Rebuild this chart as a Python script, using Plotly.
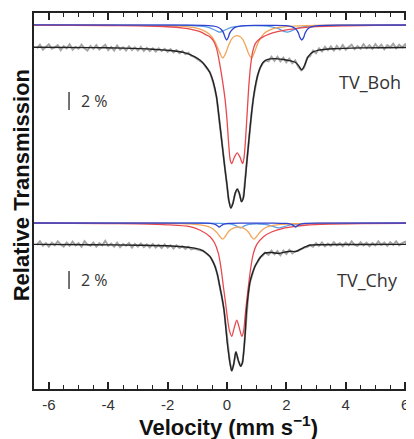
import plotly.graph_objects as go

# ---------------- data (absorption depth in %) ----------------
# TV_Boh components
BOH_RED_V = [-6.5, -4.0, -3.0, -2.0, -1.47, -1.2, -0.91, -0.7, -0.57, -0.46, -0.35, -0.24, -0.15, -0.07,
             0.0, 0.06, 0.11, 0.16, 0.25, 0.345, 0.44, 0.53, 0.58, 0.63, 0.68, 0.74, 0.8, 0.87, 0.95, 1.05,
             1.2, 1.4, 1.7, 2.0, 2.5, 3.0, 4.0, 5.0, 6.3]
BOH_RED_D = [0.02, 0.06, 0.1, 0.2, 0.35, 0.5, 0.75, 1.1, 1.35, 1.75, 2.6, 4.4, 6.2, 8.1,
             10.5, 13.3, 15.0, 15.4, 14.7, 14.2, 14.7, 15.4, 14.6, 12.5, 9.8, 6.6, 4.4, 2.9, 2.1, 1.7,
             1.35, 1.05, 0.75, 0.55, 0.32, 0.18, 0.09, 0.05, 0.03]

BOH_ORA_V = [-6.5, -3.0, -2.0, -1.5, -1.1, -0.8, -0.6, -0.46, -0.35, -0.24, -0.145, -0.05, 0.05, 0.15, 0.25,
             0.34, 0.43, 0.53, 0.63, 0.73, 0.83, 0.93, 1.03, 1.11, 1.25, 1.45, 1.7, 2.1, 3.0, 4.0, 6.3]
BOH_ORA_D = [0.01, 0.04, 0.08, 0.15, 0.3, 0.6, 1.0, 1.55, 2.25, 3.1, 3.67, 3.2, 2.3, 1.6, 1.28,
             1.19, 1.28, 1.6, 2.3, 3.2, 3.67, 3.0, 2.1, 1.6, 0.95, 0.55, 0.3, 0.15, 0.05, 0.03, 0.01]

BOH_DBL_V = [-6.5, -1.5, -0.8, -0.5, -0.3, -0.2, -0.12, -0.06, -0.01, 0.04, 0.1, 0.19, 0.29, 0.5, 1.0,
             1.5, 2.0, 2.2, 2.32, 2.4, 2.46, 2.52, 2.58, 2.64, 2.72, 2.84, 3.1, 4.0, 6.3]
BOH_DBL_D = [0.0, 0.02, 0.04, 0.1, 0.25, 0.48, 0.85, 1.4, 1.67, 1.4, 0.85, 0.48, 0.25, 0.1, 0.04,
             0.04, 0.08, 0.22, 0.45, 0.85, 1.4, 1.67, 1.4, 0.85, 0.45, 0.22, 0.08, 0.02, 0.0]

BOH_LBL_V = [-6.5, -2.0, -1.2, -0.8, -0.6, -0.45, -0.34, -0.24, -0.14, -0.03, 0.12, 0.35, 0.7, 1.2, 1.5,
             1.7, 1.82, 1.92, 2.03, 2.13, 2.24, 2.38, 2.6, 3.0, 4.0, 6.3]
BOH_LBL_D = [0.01, 0.03, 0.06, 0.15, 0.3, 0.5, 0.68, 0.8, 0.68, 0.5, 0.3, 0.15, 0.08, 0.1, 0.2,
             0.35, 0.55, 0.72, 0.8, 0.72, 0.55, 0.35, 0.18, 0.08, 0.03, 0.01]

BOH_FIT_V = [-6.5, -4.5, -3.5, -2.5, -1.92, -1.47, -1.2, -0.91, -0.7, -0.57, -0.46, -0.35, -0.24, -0.15,
             -0.07, 0.0, 0.06, 0.13, 0.2, 0.28, 0.35, 0.42, 0.49, 0.55, 0.61, 0.66, 0.72, 0.77, 0.83, 0.89,
             0.95, 1.03, 1.11, 1.22, 1.35, 1.6, 1.9, 2.15, 2.3, 2.42, 2.52, 2.62, 2.74, 2.9, 3.1, 3.6, 4.5, 6.3]
BOH_FIT_D = [0.04, 0.08, 0.13, 0.25, 0.4, 0.6, 0.9, 1.45, 2.2, 2.9, 3.9, 5.6, 8.6, 11.2,
             13.5, 15.3, 17.0, 17.9, 17.4, 16.2, 15.8, 16.3, 17.2, 16.8, 15.0, 13.1, 11.0, 9.2, 7.3, 5.7,
             4.4, 3.2, 2.4, 1.7, 1.4, 1.3, 1.4, 1.55, 1.7, 2.1, 2.55, 2.0, 1.05, 0.55, 0.35, 0.2, 0.1, 0.05]

BOH_DATA_V = [-6.4, -6.3, -6.2, -6.1, -6.0, -5.9, -5.8, -5.7, -5.6, -5.5, -5.4, -5.3, -5.2, -5.1, -5.0,
              -4.9, -4.8, -4.7, -4.6, -4.5, -4.4, -4.3, -4.2, -4.1, -4.0, -3.9, -3.8, -3.7, -3.6, -3.5,
              -3.4, -3.3, -3.2, -3.1, -3.0, -2.9, -2.8, -2.7, -2.6, -2.5, -2.4, -2.3, -2.2, -2.1, -2.0,
              -1.9, -1.8, -1.7, -1.6, -1.5, -1.4, -1.3, -1.2, -1.1,
              -0.91, -0.8, -0.7, -0.57, -0.46, -0.35, -0.24, -0.15, -0.07, 0.0, 0.06, 0.13, 0.2, 0.28,
              0.35, 0.42, 0.49, 0.55, 0.61, 0.66, 0.72, 0.77, 0.83, 0.89, 0.95, 1.03, 1.11, 1.22, 1.3,
              1.4, 1.5, 1.6, 1.7, 1.8, 1.9, 2.0, 2.1, 2.2, 2.3, 2.4, 2.5, 2.6, 2.7, 2.8, 2.9, 3.0,
              3.1, 3.2, 3.3, 3.4, 3.5, 3.6, 3.7, 3.8, 3.9, 4.0, 4.1, 4.2, 4.3, 4.4, 4.5, 4.6, 4.7,
              4.8, 4.9, 5.0, 5.1, 5.2, 5.3, 5.4, 5.5, 5.6, 5.7, 5.8, 5.9, 6.0, 6.1, 6.2, 6.3]
BOH_DATA_D = [0.15, -0.25, 0.3, 0.0, -0.3, 0.2, 0.05, -0.2, 0.35, -0.1, 0.15, -0.3, 0.3, 0.0, 0.2,
              -0.25, 0.15, 0.4, -0.1, 0.2, -0.2, 0.3, 0.05, -0.25, 0.35, 0.0, 0.4, -0.15, 0.3, 0.05,
              0.4, -0.05, 0.35, 0.05, 0.4, 0.0, 0.45, 0.1, 0.45, 0.15, 0.5, 0.15, 0.45, 0.2, 0.55,
              0.25, 0.6, 0.35, 0.7, 0.45, 0.8, 0.65, 1.0, 1.1,
              1.55, 1.8, 2.3, 2.8, 4.0, 5.55, 8.65, 11.15, 13.55, 15.25, 17.05, 17.9, 17.35, 16.25,
              15.75, 16.35, 17.2, 16.75, 15.05, 13.05, 11.05, 9.15, 7.35, 5.65, 4.45, 3.2, 2.35, 1.75, 1.5,
              1.6, 1.1, 1.55, 1.1, 1.6, 1.2, 1.7, 1.3, 1.8, 1.5, 2.2, 2.6, 2.3, 1.2, 1.0, 0.4, 0.7,
              0.15, 0.5, 0.0, 0.35, -0.05, 0.4, -0.1, 0.3, -0.2, 0.3, 0.0, -0.25, 0.25, -0.1, 0.2, -0.3, 0.15,
              -0.2, 0.2, -0.3, 0.1, -0.25, 0.25, -0.2, 0.05, -0.35, 0.15, -0.25, 0.05, -0.3, 0.15, -0.2, 0.05]

# TV_Chy components
CHY_RED_V = [-6.5, -4.0, -3.0, -2.0, -1.25, -0.9, -0.57, -0.42, -0.29, -0.2, -0.12, -0.05, 0.01, 0.08,
             0.16, 0.24, 0.33, 0.42, 0.5, 0.56, 0.61, 0.66, 0.72, 0.8, 0.89, 1.0, 1.23, 1.5, 1.9, 2.3,
             2.69, 3.5, 4.5, 6.3]
CHY_RED_D = [0.02, 0.06, 0.1, 0.2, 0.41, 0.8, 1.52, 2.2, 3.37, 5.0, 7.1, 8.8, 10.4, 11.9,
             12.6, 11.7, 10.8, 11.7, 12.6, 12.0, 10.4, 8.8, 7.1, 5.0, 3.37, 2.4, 1.52, 1.0, 0.59, 0.38,
             0.22, 0.12, 0.07, 0.03]

CHY_ORA_V = [-6.5, -3.0, -2.0, -1.4, -1.0, -0.75, -0.55, -0.42, -0.33, -0.24, -0.15, -0.06, 0.04, 0.14,
             0.26, 0.38, 0.5, 0.62, 0.72, 0.82, 0.91, 1.0, 1.09, 1.18, 1.31, 1.5, 1.75, 2.2, 3.0, 6.3]
CHY_ORA_D = [0.01, 0.02, 0.04, 0.08, 0.17, 0.3, 0.5, 0.8, 1.1, 1.5, 1.8, 1.5, 1.0, 0.7,
             0.5, 0.43, 0.5, 0.7, 1.0, 1.5, 1.8, 1.5, 1.1, 0.8, 0.5, 0.3, 0.17, 0.08, 0.03, 0.01]

CHY_DBL_V = [-6.5, -1.5, -0.8, -0.56, -0.46, -0.38, -0.32, -0.26, -0.2, -0.14, -0.06, 0.04, 0.5, 1.5,
             1.8, 2.01, 2.11, 2.19, 2.25, 2.31, 2.37, 2.43, 2.51, 2.61, 3.2, 6.3]
CHY_DBL_D = [0.0, 0.01, 0.02, 0.04, 0.09, 0.18, 0.3, 0.45, 0.3, 0.18, 0.09, 0.04, 0.01, 0.02,
             0.03, 0.04, 0.09, 0.18, 0.3, 0.45, 0.3, 0.18, 0.09, 0.04, 0.01, 0.0]

CHY_LBL_V = [-6.5, -1.0, -0.2, 0.05, 0.2, 0.3, 0.38, 0.45, 0.52, 0.6, 0.7, 0.85, 1.1, 1.35, 1.45,
             1.6, 1.68, 1.75, 1.82, 1.9, 2.05, 2.2, 2.5, 3.2, 6.3]
CHY_LBL_D = [0.0, 0.01, 0.04, 0.1, 0.18, 0.3, 0.45, 0.55, 0.45, 0.3, 0.18, 0.12, 0.11, 0.18, 0.28,
             0.42, 0.5, 0.55, 0.5, 0.42, 0.28, 0.18, 0.08, 0.03, 0.0]

CHY_FIT_V = [-6.5, -4.5, -3.0, -2.0, -1.48, -1.2, -0.91, -0.7, -0.57, -0.48, -0.4, -0.32, -0.24, -0.17,
             -0.1, -0.05, 0.01, 0.06, 0.1, 0.16, 0.23, 0.3, 0.38, 0.46, 0.52, 0.57, 0.62, 0.66, 0.72, 0.77,
             0.85, 0.94, 1.02, 1.11, 1.2, 1.28, 1.5, 1.75, 1.95, 2.15, 2.31, 2.5, 2.65, 2.8, 3.2, 4.5, 6.3]
CHY_FIT_D = [0.04, 0.08, 0.14, 0.2, 0.3, 0.4, 0.6, 1.0, 1.41, 1.9, 2.52, 3.4, 4.74, 5.9,
             7.33, 8.9, 11.0, 12.3, 13.2, 14.1, 13.3, 12.0, 12.9, 13.6, 13.2, 11.8, 9.6, 7.33, 5.5, 4.33,
             3.3, 2.52, 2.0, 1.56, 1.2, 1.0, 0.95, 1.05, 0.9, 0.8, 0.85, 0.55, 0.3, 0.12, 0.08, 0.05, 0.04]

CHY_DATA_V = [-6.4, -6.3, -6.2, -6.1, -6.0, -5.9, -5.8, -5.7, -5.6, -5.5, -5.4, -5.3, -5.2, -5.1, -5.0,
              -4.9, -4.8, -4.7, -4.6, -4.5, -4.4, -4.3, -4.2, -4.1, -4.0, -3.9, -3.8, -3.7, -3.6, -3.5,
              -3.4, -3.3, -3.2, -3.1, -3.0, -2.9, -2.8, -2.7, -2.6, -2.5, -2.4, -2.3, -2.2, -2.1, -2.0,
              -1.9, -1.8, -1.7, -1.6, -1.5, -1.4, -1.3, -1.2, -1.1,
              -0.91, -0.8, -0.7, -0.57, -0.48, -0.4, -0.32, -0.24, -0.17, -0.1, -0.05, 0.01, 0.06, 0.1,
              0.16, 0.23, 0.3, 0.38, 0.46, 0.52, 0.57, 0.62, 0.66, 0.72, 0.77, 0.85, 0.94, 1.02, 1.11,
              1.2, 1.28,
              1.4, 1.5, 1.6, 1.7, 1.8, 1.9, 2.0, 2.1, 2.2, 2.3, 2.4, 2.5, 2.6, 2.7, 2.8, 2.9, 3.0,
              3.1, 3.2, 3.3, 3.4, 3.5, 3.6, 3.7, 3.8, 3.9, 4.0, 4.1, 4.2, 4.3, 4.4, 4.5, 4.6, 4.7,
              4.8, 4.9, 5.0, 5.1, 5.2, 5.3, 5.4, 5.5, 5.6, 5.7, 5.8, 5.9, 6.0, 6.1, 6.2, 6.3]
CHY_DATA_D = [0.1, -0.3, 0.2, -0.1, 0.3, -0.15, 0.15, -0.3, 0.05, 0.3, -0.15, 0.2, -0.25, 0.15, -0.1,
              0.3, -0.3, 0.05, 0.2, -0.15, 0.3, -0.1, 0.15, -0.35, 0.2, -0.05, 0.3, -0.15, 0.35, 0.0,
              0.2, -0.1, 0.4, 0.0, 0.3, -0.05, 0.35, 0.05, 0.4, 0.0, 0.4, 0.1, 0.45, 0.05, 0.4,
              0.15, 0.5, 0.15, 0.45, 0.25, 0.55, 0.3, 0.6, 0.5,
              0.7, 0.75, 1.05, 1.4, 1.95, 2.45, 3.45, 4.7, 5.95, 7.3, 8.95, 10.95, 12.35, 13.15,
              14.1, 13.35, 11.95, 12.95, 13.55, 13.25, 11.75, 9.65, 7.3, 5.55, 4.3, 3.35, 2.45, 2.1, 1.5,
              1.3, 0.95,
              1.2, 0.75, 1.15, 0.8, 1.25, 0.75, 1.1, 0.65, 1.05, 0.8, 0.75, 0.6, 0.4, 0.35, 0.15, 0.3, -0.1,
              0.2, -0.15, 0.25, -0.05, 0.2, -0.2, 0.15, -0.1, 0.25, -0.15, 0.15, -0.3, 0.1, 0.2, -0.2, 0.15,
              -0.15, 0.25, -0.1, 0.15, -0.3, 0.1, -0.15, 0.2, -0.2, 0.1, -0.3, 0.15, -0.1, -0.25, 0.1, -0.2, 0.0]

X_TICKS = [-6, -4, -2, 0, 2, 4, 6]
SAMPLES = ["TV_Boh", "TV_Chy"]

# ---------------- layout constants ----------------
BOH_COMP_BASE = 0.0
BOH_DATA_BASE = -2.44
CHY_COMP_BASE = -22.0
CHY_DATA_BASE = -24.33

C_RED = "#e8494f"
C_ORA = "#f2a65a"
C_DBL = "#2f43cf"
C_LBL = "#5b9ee6"
C_FIT = "#222222"
C_DATA = "#a6a6a6"

fig = go.Figure()


def add(v, d, base, color, width, shape="spline"):
    fig.add_trace(go.Scatter(
        x=v, y=[base - x for x in d], mode="lines",
        line=dict(color=color, width=width, shape=shape, smoothing=0.8),
        showlegend=False, hoverinfo="skip"))


for (dv, dd, fv, fd, rv, rd, ov, od, dbv, dbd, lbv, lbd, cb, db) in [
    (BOH_DATA_V, BOH_DATA_D, BOH_FIT_V, BOH_FIT_D, BOH_RED_V, BOH_RED_D, BOH_ORA_V, BOH_ORA_D,
     BOH_DBL_V, BOH_DBL_D, BOH_LBL_V, BOH_LBL_D, BOH_COMP_BASE, BOH_DATA_BASE),
    (CHY_DATA_V, CHY_DATA_D, CHY_FIT_V, CHY_FIT_D, CHY_RED_V, CHY_RED_D, CHY_ORA_V, CHY_ORA_D,
     CHY_DBL_V, CHY_DBL_D, CHY_LBL_V, CHY_LBL_D, CHY_COMP_BASE, CHY_DATA_BASE),
]:
    add(dv, dd, db, C_DATA, 2.0, shape="linear")
    add(lbv, lbd, cb, C_LBL, 1.3)
    add(ov, od, cb, C_ORA, 1.3)
    add(rv, rd, cb, C_RED, 1.3)
    add(dbv, dbd, cb, C_DBL, 1.3)
    add(fv, fd, db, C_FIT, 1.4)

# 2 % scale bars
for top in (-7.44, -27.33):
    fig.add_shape(type="line", x0=-5.32, x1=-5.32, y0=top, y1=top - 2.0,
                  line=dict(color="#444", width=1.5))

ann_font = dict(family="Open Sans, Noto Sans, sans-serif", size=16, color="#333")
lab_font = dict(family="Open Sans, Noto Sans, sans-serif", size=18, color="#333")
title_font = dict(family="Liberation Sans, Arial, sans-serif", size=22, color="#111")
annotations = [
    dict(x=-5.0, y=-8.44, text="2 %", showarrow=False, xanchor="left", yanchor="middle", font=ann_font),
    dict(x=-5.0, y=-28.33, text="2 %", showarrow=False, xanchor="left", yanchor="middle", font=ann_font),
    dict(x=4.82, y=-6.33, text=SAMPLES[0], showarrow=False, xanchor="center", yanchor="middle", font=lab_font),
    dict(x=4.73, y=-28.33, text=SAMPLES[1], showarrow=False, xanchor="center", yanchor="middle", font=lab_font),
    dict(xref="paper", yref="paper", x=-0.033, y=0.543, text="<b>Relative Transmission</b>",
         textangle=-90, showarrow=False, xanchor="center", yanchor="middle", font=title_font),
    dict(xref="paper", yref="paper", x=0.513, y=-0.099, text="<b>Velocity (mm s<sup>\u22121</sup>)</b>",
         showarrow=False, xanchor="center", yanchor="middle", font=title_font),
]

# the page body has an 8 px margin, so the figure is sized/offset to land on the 414x439 frame
fig.update_layout(
    width=406, height=431,
    margin=dict(l=26, r=0, t=5, b=50),
    paper_bgcolor="white", plot_bgcolor="white",
    annotations=annotations,
    xaxis=dict(range=[-6.5, 6.3], tickvals=X_TICKS, ticktext=[str(t) for t in X_TICKS],
               ticks="inside", ticklen=7, tickwidth=1.5, tickcolor="#222",
               minor=dict(dtick=0.5, tick0=0, ticks="inside", ticklen=4, tickwidth=1.2, tickcolor="#222"),
               showline=True, linewidth=2, linecolor="#222", mirror="ticks",
               showgrid=False, zeroline=False, ticklabelstandoff=1,
               tickfont=dict(family="Liberation Sans, Arial, sans-serif", size=15, color="#333")),
    yaxis=dict(range=[-40.44, 1.33], showticklabels=False, ticks="",
               showline=True, linewidth=2, linecolor="#222", mirror=False,
               showgrid=False, zeroline=False),
)

fig.write_html("out.html")
